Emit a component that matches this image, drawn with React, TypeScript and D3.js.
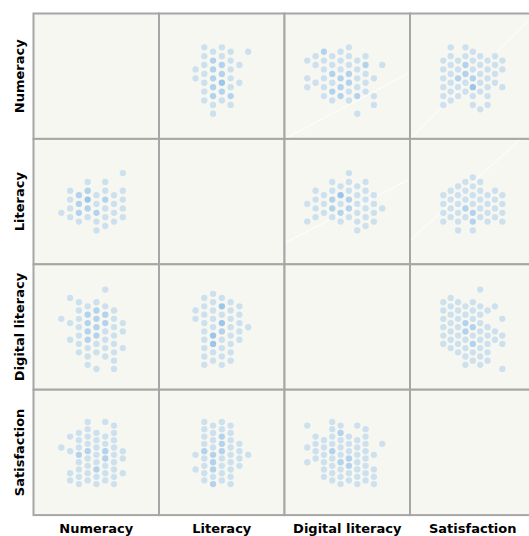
import React from "react";
import * as d3 from "d3";

// ---- Variables (row/column order of the matrix) ----
const variables = ["Numeracy", "Literacy", "Digital literacy", "Satisfaction"];

// ---- Binned points per cell: [column, firstHalfRow, counts for every 2nd half-row (0 = empty)] ----
// row Numeracy
const numeracyByLiteracy = [[4,5,[1,1]],[5,0,[1,1,1,1,1,1,1]],[6,1,[1,2,2,2,2,2,1,1]],[7,0,[1,1,2,2,3,2,1]],[8,1,[1,1,1,1,1,2,1]],[9,4,[1,0,1]],[10,1,[1]]];
const numeracyByDigital = [[2,3,[1,0,1,1]],[3,2,[1,1,0,1]],[4,1,[2,1,1,1,1,1]],[5,2,[1,1,2,1,2,1]],[6,1,[1,1,1,2,2,2]],[7,0,[1,1,1,2,2,1,1]],[8,3,[1,1,1,1,2,0,1]],[9,2,[1,2,1,1,1]],[10,7,[1,0,1,1]],[11,4,[1]]];
const numeracyBySatisfaction = [[0,3,[1,1,1,1,1,1]],[1,0,[1,1,1,1,1,1,1]],[2,3,[1,1,2,1,1]],[3,0,[1,1,2,2,1,1]],[4,1,[1,1,1,2,3,1,1]],[5,2,[1,1,1,1,1,0,1]],[6,3,[1,1,1,1,1,1]],[7,2,[1,1,1,1]],[8,3,[1,1,0,1]]];
// row Literacy
const literacyByNumeracy = [[3,9,[1]],[4,4,[1,1,1,1]],[5,5,[2,2,2,1]],[6,2,[1,2,3,2,1]],[7,5,[1,1,2,1,1]],[8,2,[1,1,2,1,1,1]],[9,5,[1,1,1,1]],[10,0,[1,0,1,1,1,1]]];
const literacyByDigital = [[2,7,[1,0,1]],[3,4,[1,1,1,1]],[4,5,[1,1,1]],[5,2,[1,1,2,2,1]],[6,3,[1,3,1,2,1]],[7,0,[1,1,1,2,2,1]],[8,3,[1,1,1,1,1,1]],[9,2,[1,1,1,1,1,1]],[10,5,[1,1,1,1]],[11,8,[1]]];
const literacyBySatisfaction = [[0,5,[1,1,1,1]],[1,4,[1,1,1,1]],[2,3,[1,1,1,1,1,1]],[3,2,[1,1,1,2,1]],[4,1,[1,1,1,1,2,2,1]],[5,2,[1,1,1,1,1]],[6,5,[1,1,1,1]],[7,4,[1,1,1,1]],[8,5,[1,1,1,1]]];
// row Digital literacy
const digitalByNumeracy = [[3,7,[1]],[4,2,[1,0,0,1,0,1]],[5,3,[1,1,1,1,1,1,1]],[6,4,[1,2,2,2,2,1,1,1]],[7,3,[1,2,2,2,2,1,1,0,1]],[8,0,[1,0,1,2,2,1,1,1,1]],[9,5,[1,1,1,1,1,1,1,1]],[10,8,[1,1,0,1]]];
const digitalByLiteracy = [[4,5,[1,1]],[5,2,[1,1,1,1,1,1,1,1,1]],[6,1,[1,1,1,1,1,3,3,1,1]],[7,2,[1,3,1,3,2,1,1,1,1]],[8,3,[1,1,1,1,1,1,1,1]],[9,4,[1,1,1,1,1]],[10,9,[1]]];
const digitalBySatisfaction = [[0,3,[1,1,1,1,1,1]],[1,2,[1,1,1,1,1,1,1]],[2,3,[1,1,1,1,1,1,1]],[3,4,[1,1,2,2,1,1,1,1]],[4,3,[1,1,1,2,1,2,1,1]],[5,0,[1,0,1,1,1,1,1,1,1,1]],[6,5,[1,0,1,1,1,1,1]],[7,4,[1,0,0,1,1]],[8,7,[1,0,1,1,0,0,1]]];
// row Satisfaction
const satisfactionByNumeracy = [[3,7,[1]],[4,4,[1,0,1,0,0,1,1]],[5,3,[1,1,1,2,1,1,1,1]],[6,0,[1,1,1,1,2,1,1,1,1]],[7,3,[1,1,1,1,1,2,1,1]],[8,0,[1,0,1,1,2,2,1,1,1]],[9,1,[1,1,1,1,1,1,1,1,1]],[10,8,[1,1,0,1]]];
const satisfactionByLiteracy = [[4,9,[1,0,1]],[5,0,[1,1,1,1,2,1,1,1,1]],[6,1,[1,1,1,1,2,2,2,1,2]],[7,0,[1,1,2,2,2,1,1,1,1]],[8,1,[1,1,1,1,1,1,1,1,1]],[9,6,[1,1,1,1]],[10,9,[1]]];
const satisfactionByDigital = [[2,1,[1,0,0,1,0,1]],[3,4,[1,1,1,1]],[4,5,[1,1,1,1,1,1]],[5,0,[1,1,1,1,2,1,1,1,1]],[6,1,[1,2,1,1,1,2,1,1,1]],[7,4,[1,1,1,2,2,1,1]],[8,1,[1,0,1,1,1,1,1,1,1]],[9,2,[1,1,1,1,1,1,1,1]],[10,9,[1,0,1,1,1]],[11,6,[1]]];

const cellData: Record<string, any[]> = {
  "0-1": numeracyByLiteracy, "0-2": numeracyByDigital, "0-3": numeracyBySatisfaction,
  "1-0": literacyByNumeracy, "1-2": literacyByDigital, "1-3": literacyBySatisfaction,
  "2-0": digitalByNumeracy, "2-1": digitalByLiteracy, "2-3": digitalBySatisfaction,
  "3-0": satisfactionByNumeracy, "3-1": satisfactionByLiteracy, "3-2": satisfactionByDigital,
};

// ---- layout ----
const W = 529, H = 536;
const left = 33.5, top = 13.5, cellW = 125.5, cellH = 125.4;
// lattice placement per variable inside a cell: [offset, step]
const xLattice = [[1.5, 8.78], [1.4, 8.78], [6.1, 8.33], [33.3, 7.38]];
const yLattice = [[33.8, 4.43], [34.2, 4.41], [25.3, 4.18], [32.2, 3.66]];
const opacityByCount = [0, 0.27, 0.44, 0.6];
// faint background seams seen in the reference (cell row, col, relative start/end as fractions)
const seams = [
  [0, 2, 0, 1, 1, 0.47],
  [0, 3, 0, 1, 1, 0],
  [1, 2, 0, 0.83, 1, 0.32],
  [1, 3, 0, 0.81, 0.88, 0],
];

export default function App() {
  const colPos = d3.scaleLinear().domain([0, 4]).range([left, left + 4 * cellW]);
  const rowPos = d3.scaleLinear().domain([0, 4]).range([top, top + 4 * cellH]);
  const xScales = xLattice.map(([o, s]) => d3.scaleLinear().domain([0, 1]).range([o, o + s]));
  const yScales = yLattice.map(([o, s]) => d3.scaleLinear().domain([0, 1]).range([o, o + s]));

  const font = "'DejaVu Sans', Verdana, sans-serif";
  const cells: any[] = [];
  variables.forEach((_, r) =>
    variables.forEach((__, c) => {
      const x0 = colPos(c), y0 = rowPos(r);
      const dots: any[] = [];
      const data = cellData[`${r}-${c}`];
      if (data) {
        data.forEach(([col, k0, counts]: any) => {
          counts.forEach((n: number, i: number) => {
            if (!n) return;
            dots.push(
              <circle
                key={`${col}-${i}`}
                cx={x0 + xScales[c](col)}
                cy={y0 + yScales[r](k0 + 2 * i)}
                r={3.15}
                fill="#5ea3e6"
                fillOpacity={opacityByCount[n]}
              />
            );
          });
        });
      }
      const seam = seams.find((s) => s[0] === r && s[1] === c);
      cells.push(
        <g key={`${r}-${c}`}>
          <rect x={x0} y={y0} width={cellW} height={cellH} fill="#f7f7f2" />
          {seam && (
            <line
              x1={x0 + seam[2] * cellW}
              y1={y0 + seam[3] * cellH}
              x2={x0 + seam[4] * cellW}
              y2={y0 + seam[5] * cellH}
              stroke="#ffffff"
              strokeWidth={1}
            />
          )}
          {dots}
          <rect x={x0} y={y0} width={cellW} height={cellH} fill="none" stroke="#a6a6a6" strokeWidth={2} />
        </g>
      );
    })
  );

  return (
    <svg width={W} height={H} style={{ position: "absolute", left: 0, top: 0, background: "#fff" }}>
      {cells}
      {variables.map((v, r) => (
        <text
          key={`row-${v}`}
          transform={`translate(24,${rowPos(r) + cellH / 2}) rotate(-90)`}
          textAnchor="middle"
          fontFamily={font}
          fontWeight="bold"
          fontSize={13}
          fill="#000"
        >
          {v}
        </text>
      ))}
      {variables.map((v, c) => (
        <text
          key={`col-${v}`}
          x={colPos(c) + cellW / 2}
          y={532.5}
          textAnchor="middle"
          fontFamily={font}
          fontWeight="bold"
          fontSize={13}
          fill="#000"
        >
          {v}
        </text>
      ))}
    </svg>
  );
}
